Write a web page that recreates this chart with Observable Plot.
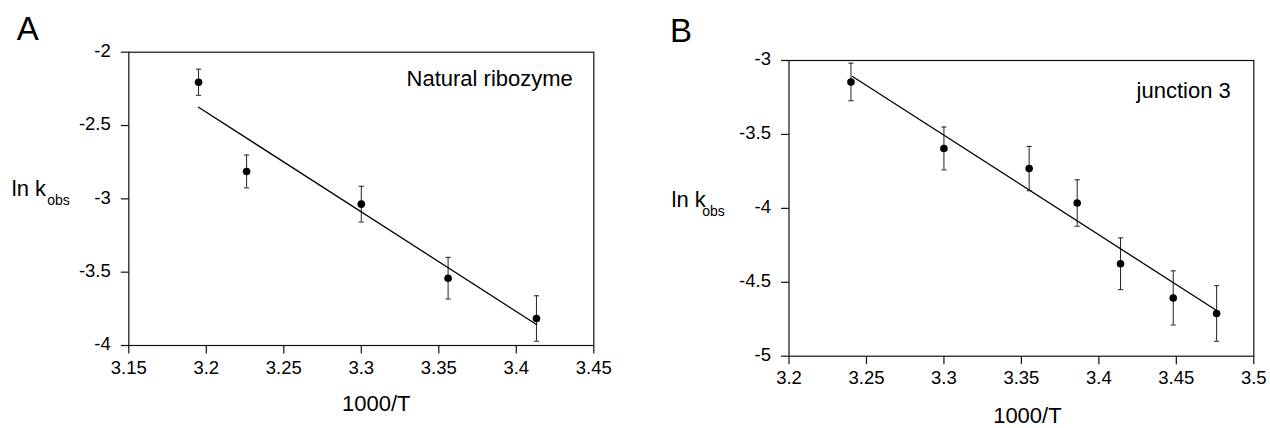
<!DOCTYPE html>
<html>
<head>
<meta charset="utf-8">
<script src="https://cdn.jsdelivr.net/npm/d3@7"></script>
<script src="https://cdn.jsdelivr.net/npm/@observablehq/plot@0.6"></script>
<style>
  html, body { margin: 0; padding: 0; background: #fff; }
  #wrap { position: relative; width: 1270px; height: 428px; overflow: hidden; }
  #wrap svg { position: absolute; top: 0; }
</style>
</head>
<body>
<div id="wrap"></div>
<script>
// ---- Panel A: Natural ribozyme ----
const xA = [3.195, 3.226, 3.300, 3.356, 3.413];
const yA = [-2.205, -2.813, -3.036, -3.541, -3.816];
const errA = [0.089, 0.112, 0.122, 0.142, 0.155];
const lineAx = [3.195, 3.413];
const lineAy = [-2.375, -3.857];
const xTicksA = [3.15, 3.2, 3.25, 3.3, 3.35, 3.4, 3.45];
const yTicksA = [-2, -2.5, -3, -3.5, -4];
const labelA = "Natural ribozyme";

// ---- Panel B: junction 3 ----
const xB = [3.240, 3.300, 3.355, 3.386, 3.414, 3.448, 3.476];
const yB = [-3.145, -3.595, -3.731, -3.964, -4.375, -4.606, -4.711];
const errB = [0.127, 0.145, 0.150, 0.157, 0.175, 0.183, 0.188];
const lineBx = [3.241, 3.476];
const lineBy = [-3.108, -4.691];
const xTicksB = [3.2, 3.25, 3.3, 3.35, 3.4, 3.45, 3.5];
const yTicksB = [-3, -3.5, -4, -4.5, -5];
const labelB = "junction 3";

const xTitle = "1000/T";
const yTitleMain = "ln k";
const yTitleSub = "obs";

const FONT = "'Liberation Sans', Arial, Helvetica, sans-serif";

const capSymbol = {draw(c) { c.moveTo(-2.6, 0); c.lineTo(2.6, 0); }};
const xTickSymbol = {draw(c) { c.moveTo(0, 0); c.lineTo(0, 8); }};
const yTickSymbol = {draw(c) { c.moveTo(0, 0); c.lineTo(-8, 0); }};

function panel(cfg) {
  const pts = cfg.xs.map((x, i) => ({x, y: cfg.ys[i], e: cfg.errs[i]}));
  const fit = cfg.lx.map((x, i) => ({x, y: cfg.ly[i]}));
  const x0 = cfg.xDomain[0], y0 = cfg.yDomain[0];
  const svg = Plot.plot({
    width: 635,
    height: 428,
    marginLeft: cfg.ml,
    marginRight: cfg.mr,
    marginTop: cfg.mt,
    marginBottom: cfg.mb,
    style: {fontFamily: FONT, fontSize: "18px", color: "#000", background: "transparent", overflow: "visible"},
    x: {domain: cfg.xDomain, axis: null},
    y: {domain: cfg.yDomain, axis: null},
    marks: [
      Plot.frame({stroke: "#111", strokeWidth: 1.2}),
      // tick marks
      Plot.dot(cfg.xTicks, {x: d => d, y: () => y0, symbol: xTickSymbol, stroke: "#111", strokeWidth: 1.2, fill: "none"}),
      Plot.dot(cfg.yTicks, {x: () => x0, y: d => d, symbol: yTickSymbol, stroke: "#111", strokeWidth: 1.2, fill: "none"}),
      // tick labels
      Plot.text(cfg.xTicks, {x: d => d, text: d => String(d), frameAnchor: "bottom", dy: 15, lineAnchor: "top", textAnchor: "middle", fontSize: 18.5, letterSpacing: 1}),
      Plot.text(cfg.yTicks, {y: d => d, text: d => String(d), frameAnchor: "left", dx: -18, dy: -1, lineAnchor: "middle", textAnchor: "end", fontSize: 18.5, letterSpacing: 1}),
      // error bars
      Plot.ruleX(pts, {x: "x", y1: d => d.y - d.e, y2: d => d.y + d.e, stroke: "#222", strokeWidth: 1}),
      Plot.dot(pts, {x: "x", y: d => d.y + d.e, symbol: capSymbol, stroke: "#222", strokeWidth: 1, fill: "none"}),
      Plot.dot(pts, {x: "x", y: d => d.y - d.e, symbol: capSymbol, stroke: "#222", strokeWidth: 1, fill: "none"}),
      // fit line and points
      Plot.line(fit, {x: "x", y: "y", stroke: "#000", strokeWidth: 1.3}),
      Plot.dot(pts, {x: "x", y: "y", r: 3.8, fill: "#000", stroke: "none"}),
      // annotations
      Plot.text([cfg.letter], {text: d => d, frameAnchor: "top-left", dx: cfg.letterDx, dy: cfg.letterDy, textAnchor: "start", lineAnchor: "bottom", fontSize: 33}),
      Plot.text([cfg.label], {text: d => d, frameAnchor: "top-right", dx: cfg.labelDx, dy: cfg.labelDy, textAnchor: "end", lineAnchor: "bottom", fontSize: 22}),
      Plot.text([yTitleMain], {text: d => d, frameAnchor: "left", dx: cfg.ytDx, dy: cfg.ytDy, textAnchor: "start", lineAnchor: "bottom", fontSize: 22}),
      Plot.text([yTitleSub], {text: d => d, frameAnchor: "left", dx: cfg.ysDx, dy: cfg.ysDy, textAnchor: "start", lineAnchor: "bottom", fontSize: 14}),
      Plot.text([xTitle], {text: d => d, frameAnchor: "bottom", dx: cfg.xtDx, dy: cfg.xtDy, textAnchor: "middle", lineAnchor: "bottom", fontSize: 22})
    ]
  });
  svg.style.left = cfg.left + "px";
  return svg;
}

const wrap = document.getElementById("wrap");

wrap.appendChild(panel({
  left: 0, xs: xA, ys: yA, errs: errA, lx: lineAx, ly: lineAy,
  xDomain: [3.15, 3.45], yDomain: [-4, -2], xTicks: xTicksA, yTicks: yTicksA,
  ml: 128.3, mr: 41.7, mt: 51.7, mb: 83,
  letter: "A", letterDx: -112, letterDy: -12.2,
  label: labelA, labelDx: -21, labelDy: 33.3,
  ytDx: -117, ytDy: -2.4, ysDx: -81.6, ysDy: 6,
  xtDx: 15, xtDy: 65.7
}));

wrap.appendChild(panel({
  left: 635, xs: xB, ys: yB, errs: errB, lx: lineBx, ly: lineBy,
  xDomain: [3.2, 3.5], yDomain: [-5, -3], xTicks: xTicksB, yTicks: yTicksB,
  ml: 153.5, mr: 16.7, mt: 60, mb: 72.3,
  letter: "B", letterDx: -119, letterDy: -19,
  label: labelB, labelDx: -23, labelDy: 37,
  ytDx: -117.5, ytDy: -1.2, ysDx: -86.8, ysDy: 7.2,
  xtDx: 6, xtDy: 66.5
}));
</script>
</body>
</html>
